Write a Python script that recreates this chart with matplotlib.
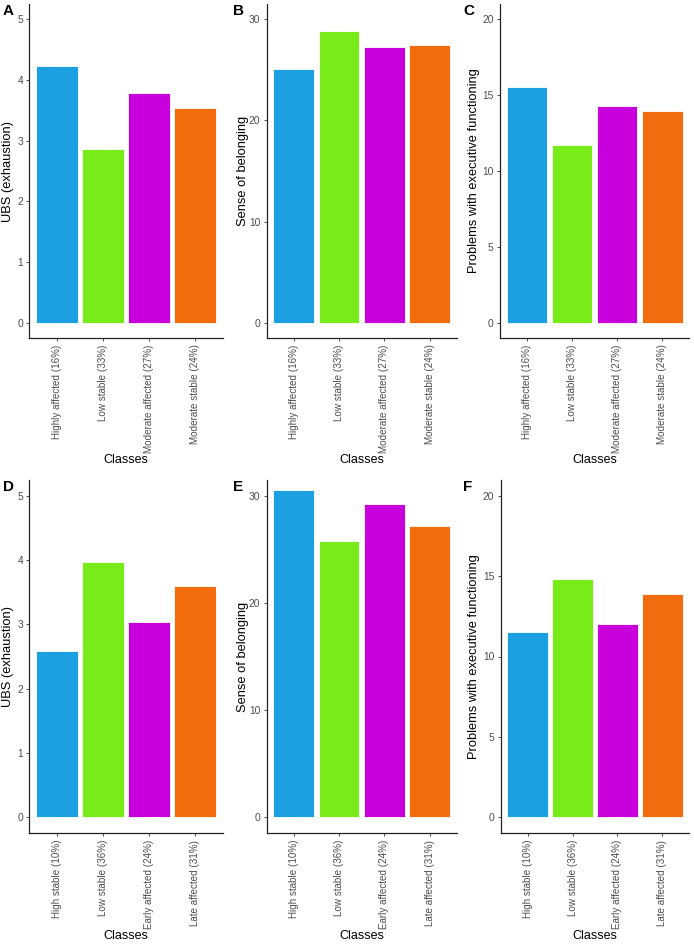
import numpy as np
import matplotlib
matplotlib.use("Agg")
import matplotlib.pyplot as plt

plt.rcParams['font.family'] = ['Liberation Sans', 'DejaVu Sans']

# Data
classes_top = ['Highly affected (16%)', 'Low stable (33%)',
               'Moderate affected (27%)', 'Moderate stable (24%)']
classes_bottom = ['High stable (10%)', 'Low stable (36%)',
                  'Early affected (24%)', 'Late affected (31%)']

ubs_top = [4.22, 2.87, 3.79, 3.54]
belong_top = [25.1, 28.8, 27.2, 27.4]
exec_top = [15.55, 11.73, 14.27, 13.95]

ubs_bottom = [2.59, 3.97, 3.04, 3.60]
belong_bottom = [30.55, 25.78, 29.18, 27.13]
exec_bottom = [11.5, 14.8, 12.02, 13.9]

colors = ['#1ba1e2', '#78ec18', '#c800dc', '#f26b0c']

W, H = 694, 944
fig = plt.figure(figsize=(W / 100, H / 100), dpi=100)


def px_axes(x0, x1, y0, y1):
    # pixel box (top-left origin) -> figure fraction
    return fig.add_axes([x0 / W, 1 - y1 / H, (x1 - x0) / W, (y1 - y0) / H])


panels = [
    ('A', classes_top, ubs_top, 'UBS (exhaustion)', (-0.25, 5.25), [0, 1, 2, 3, 4, 5], (29.3, 222.7, 3.8, 338.2)),
    ('B', classes_top, belong_top, 'Sense of belonging', (-1.5, 31.5), [0, 10, 20, 30], (266.7, 456.7, 3.8, 338.2)),
    ('C', classes_top, exec_top, 'Problems with executive functioning', (-1, 21), [0, 5, 10, 15, 20], (500, 689.3, 3.8, 338.2)),
    ('D', classes_bottom, ubs_bottom, 'UBS (exhaustion)', (-0.25, 5.25), [0, 1, 2, 3, 4, 5], (29.3, 222.7, 479.6, 833.4)),
    ('E', classes_bottom, belong_bottom, 'Sense of belonging', (-1.5, 31.5), [0, 10, 20, 30], (266.7, 456.7, 479.6, 833.4)),
    ('F', classes_bottom, exec_bottom, 'Problems with executive functioning', (-1, 21), [0, 5, 10, 15, 20], (500.7, 689.3, 479.6, 833.4)),
]

for letter, cats, vals, ylab, ylim, yticks, box in panels:
    x0, x1, y0, y1 = box
    ax = px_axes(x0, x1, y0, y1)
    pos = np.arange(1, len(cats) + 1)
    ax.bar(pos, vals, width=0.9, color=colors, edgecolor='white', linewidth=0.6)
    ax.set_xlim(0.4, 4.6)
    ax.set_ylim(*ylim)
    ax.set_yticks(yticks)
    ax.set_xticks(pos)
    ax.set_xticklabels(cats, rotation=90, fontsize=7.1, color='#4d4d4d')
    ax.tick_params(axis='y', labelsize=7.4, labelcolor='#4d4d4d', length=2.5,
                   width=0.6, color='#333333', pad=2)
    ax.tick_params(axis='x', length=2.5, width=0.6, color='#333333', pad=2)
    for s in ['top', 'right']:
        ax.spines[s].set_visible(False)
    for s in ['left', 'bottom']:
        ax.spines[s].set_linewidth(0.9)
        ax.spines[s].set_color('#222222')
    ax.set_ylabel(ylab, fontsize=9.3)
    ax.set_xlabel('Classes', fontsize=9.0)
    # place axis titles in pixel positions
    ylab_x = {'A': 8, 'B': 243, 'C': 474, 'D': 8, 'E': 243, 'F': 474}[letter]
    xlab_y = 460 if letter in 'ABC' else 936.5
    ax.yaxis.set_label_coords((ylab_x - x0) / (x1 - x0), 0.5)
    ax.xaxis.set_label_coords(0.5, 1 - (xlab_y - y0) / (y1 - y0))
    ax.xaxis.label.set_va('center')
    ax.yaxis.label.set_va('center')
    # panel letter
    lx = {'A': 3, 'B': 233, 'C': 463, 'D': 3, 'E': 233, 'F': 463}[letter]
    ly = 11 if letter in 'ABC' else 487
    fig.text(lx / W, 1 - ly / H, letter, fontsize=11, fontweight='bold',
             ha='left', va='center')

fig.savefig('out.png', dpi=100)
